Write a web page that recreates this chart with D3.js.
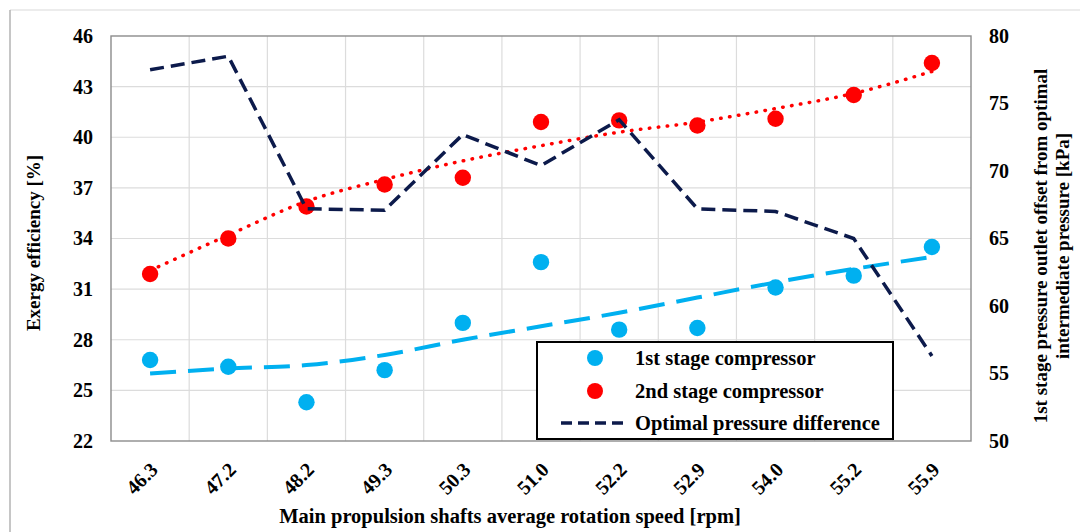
<!DOCTYPE html>
<html>
<head>
<meta charset="utf-8">
<script src="https://cdn.jsdelivr.net/npm/d3@7"></script>
<style>
  body { margin: 0; background: #fff; }
  svg text { font-family: "Liberation Serif", "Times New Roman", serif; font-weight: bold; fill: #000; }
</style>
</head>
<body>
<div id="chart"></div>
<script>
// rotation speed categories [rpm]
const categories = ["46.3", "47.2", "48.2", "49.3", "50.3", "51.0", "52.2", "52.9", "54.0", "55.2", "55.9"]
// exergy efficiency [%]
const stage1 = [26.8, 26.4, 24.3, 26.2, 29.0, 32.6, 28.6, 28.7, 31.1, 31.8, 33.5]
const stage2 = [31.9, 34.0, 35.9, 37.2, 37.6, 40.9, 41.0, 40.7, 41.1, 42.5, 44.4]
// trend lines
const trend1 = [26.0, 26.3, 26.5, 27.1, 28.0, 28.8, 29.6, 30.5, 31.4, 32.2, 32.9]
const trend2 = [32.1, 34.2, 36.2, 37.5, 38.6, 39.5, 40.3, 40.9, 41.7, 42.6, 43.9]
// optimal pressure difference [kPa] (right axis)
const pressureDiff = [77.5, 78.5, 67.2, 67.1, 72.7, 70.4, 73.8, 67.2, 67.0, 65.0, 56.3]

const leftTicks = [22, 25, 28, 31, 34, 37, 40, 43, 46]
const rightTicks = [50, 55, 60, 65, 70, 75, 80]
const legendItems = ["1st stage compressor", "2nd stage compressor", "Optimal pressure difference"]

const W = 1080, H = 532
const plot = {left: 111, right: 971, top: 36, bottom: 441}

const svg = d3.select("#chart").append("svg")
    .attr("width", W)
    .attr("height", H)

// outer frame
svg.append("line").attr("x1", 10).attr("x2", W).attr("y1", 10).attr("y2", 10)
    .attr("stroke", "#e6e6e6").attr("stroke-width", 1.5)
svg.append("line").attr("x1", 10).attr("x2", 10).attr("y1", 10).attr("y2", H)
    .attr("stroke", "#b3b3b3").attr("stroke-width", 1.5)

const xScale = d3.scaleBand().domain(categories).range([plot.left, plot.right])
const yLeft = d3.scaleLinear().domain([22, 46]).range([plot.bottom, plot.top])
const yRight = d3.scaleLinear().domain([50, 80]).range([plot.bottom, plot.top])
const cx = d => xScale(d) + xScale.bandwidth() / 2

// grid
svg.append("g").selectAll("line").data(leftTicks.slice(1, -1)).enter().append("line")
    .attr("x1", plot.left).attr("x2", plot.right)
    .attr("y1", d => yLeft(d)).attr("y2", d => yLeft(d))
    .attr("stroke", "#dcdcdc").attr("stroke-width", 1.2)
svg.append("g").selectAll("line").data(categories.slice(1)).enter().append("line")
    .attr("x1", d => xScale(d)).attr("x2", d => xScale(d))
    .attr("y1", plot.top).attr("y2", plot.bottom)
    .attr("stroke", "#dcdcdc").attr("stroke-width", 1.2)

svg.append("rect")
    .attr("x", plot.left).attr("y", plot.top)
    .attr("width", plot.right - plot.left).attr("height", plot.bottom - plot.top)
    .attr("fill", "none").attr("stroke", "#8c8c8c").attr("stroke-width", 1.4)

// axes
const yAxisL = svg.append("g")
    .attr("transform", `translate(${plot.left},0)`)
    .call(d3.axisLeft(yLeft).tickValues(leftTicks).tickSize(0).tickPadding(18))
const yAxisR = svg.append("g")
    .attr("transform", `translate(${plot.right},0)`)
    .call(d3.axisRight(yRight).tickValues(rightTicks).tickSize(0).tickPadding(18))
const xAxis = svg.append("g")
    .attr("transform", `translate(0,${plot.bottom})`)
    .call(d3.axisBottom(xScale).tickSize(0).tickPadding(0))

;[yAxisL, yAxisR, xAxis].forEach(g => {
    g.select(".domain").remove()
    g.selectAll("text").attr("font-size", 20).attr("font-family", null)
})
xAxis.selectAll("text")
    .attr("text-anchor", "end")
    .attr("dy", "0.35em")
    .attr("transform", "translate(4,25) rotate(-45)")

// axis titles
svg.append("text")
    .attr("x", 510).attr("y", 523)
    .attr("text-anchor", "middle").attr("font-size", 20.5)
    .text("Main propulsion shafts average rotation speed [rpm]")
svg.append("text")
    .attr("transform", "translate(40,243) rotate(-90)")
    .attr("text-anchor", "middle").attr("font-size", 19)
    .text("Exergy efficiency [%]")
svg.append("text")
    .attr("transform", "translate(1047,246) rotate(-90)")
    .attr("text-anchor", "middle").attr("font-size", 19)
    .text("1st stage pressure outlet offset from optimal")
svg.append("text")
    .attr("transform", "translate(1069,246) rotate(-90)")
    .attr("text-anchor", "middle").attr("font-size", 19)
    .text("intermediate pressure [kPa]")

// trend lines
const lineL = d3.line().x((d, i) => cx(categories[i])).y(d => yLeft(d)).curve(d3.curveMonotoneX)
svg.append("path").datum(trend1)
    .attr("d", lineL).attr("fill", "none")
    .attr("stroke", "#00b0f0").attr("stroke-width", 4)
    .attr("stroke-dasharray", "26,12")
svg.append("path").datum(trend2)
    .attr("d", lineL).attr("fill", "none")
    .attr("stroke", "#ff0000").attr("stroke-width", 3.5)
    .attr("stroke-linecap", "round")
    .attr("stroke-dasharray", "0.5,8.5")

// markers
svg.append("g").selectAll("circle").data(stage1).enter().append("circle")
    .attr("cx", (d, i) => cx(categories[i])).attr("cy", d => yLeft(d))
    .attr("r", 8.2).attr("fill", "#00b0f0")
svg.append("g").selectAll("circle").data(stage2).enter().append("circle")
    .attr("cx", (d, i) => cx(categories[i])).attr("cy", d => yLeft(d))
    .attr("r", 8.2).attr("fill", "#ff0000")

// pressure difference line
const lineR = d3.line().x((d, i) => cx(categories[i])).y(d => yRight(d))
svg.append("path").datum(pressureDiff)
    .attr("d", lineR).attr("fill", "none")
    .attr("stroke", "#0c1a4b").attr("stroke-width", 3.5)
    .attr("stroke-dasharray", "14,7")

// legend
const legend = svg.append("g")
legend.append("rect")
    .attr("x", 537).attr("y", 342).attr("width", 356).attr("height", 97)
    .attr("fill", "#fff").attr("stroke", "#000").attr("stroke-width", 2)
const rowY = [358, 391, 423]
legend.append("circle").attr("cx", 595).attr("cy", rowY[0]).attr("r", 8).attr("fill", "#00b0f0")
legend.append("circle").attr("cx", 595).attr("cy", rowY[1]).attr("r", 8).attr("fill", "#ff0000")
legend.append("line")
    .attr("x1", 561).attr("x2", 627).attr("y1", rowY[2]).attr("y2", rowY[2])
    .attr("stroke", "#0c1a4b").attr("stroke-width", 3.5)
    .attr("stroke-dasharray", "11,6")
legend.selectAll("text").data(legendItems).enter().append("text")
    .attr("x", 635).attr("y", (d, i) => rowY[i]).attr("dy", "0.35em")
    .attr("font-size", 20.5)
    .text(d => d)
</script>
</body>
</html>
